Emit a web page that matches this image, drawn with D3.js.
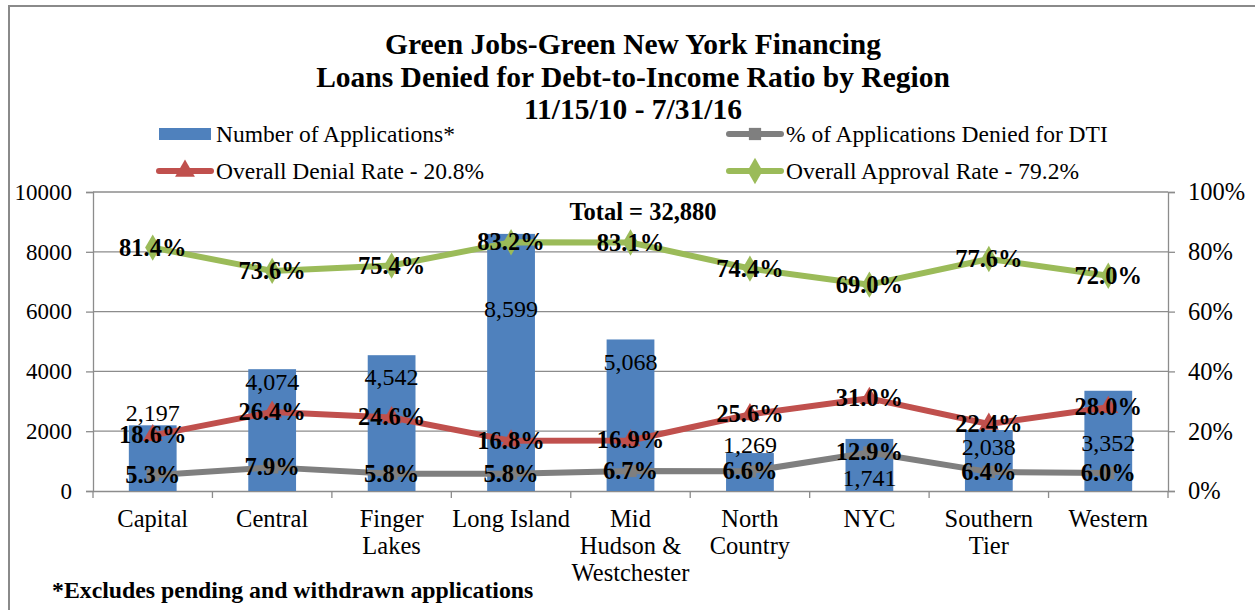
<!DOCTYPE html>
<html>
<head>
<meta charset="utf-8">
<script src="https://cdn.jsdelivr.net/npm/d3@7"></script>
<style>
  body { margin: 0; background: #fff; }
  svg { display: block; font-family: "Liberation Serif", "Times New Roman", serif; }
  .grid line { stroke: #8c8c8c; stroke-width: 1.3; }
  .axis path, .axis line { stroke: #8c8c8c; stroke-width: 1.3; }
  .axis text { font-size: 23px; fill: #000; font-family: "Liberation Serif", serif; }
</style>
</head>
<body>
<svg id="chart" width="1255" height="610"></svg>
<script>
// regions on the category axis
const regions = ["Capital", "Central", "Finger Lakes", "Long Island", "Mid Hudson & Westchester",
                 "North Country", "NYC", "Southern Tier", "Western"];
// how the region names wrap
const regionLines = [["Capital"], ["Central"], ["Finger", "Lakes"], ["Long Island"],
                     ["Mid", "Hudson &", "Westchester"], ["North", "Country"], ["NYC"],
                     ["Southern", "Tier"], ["Western"]];

const applications = [2197, 4074, 4542, 8599, 5068, 1269, 1741, 2038, 3352];
const deniedDTI    = [5.3, 7.9, 5.8, 5.8, 6.7, 6.6, 12.9, 6.4, 6.0];
const denialRate   = [18.6, 26.4, 24.6, 16.8, 16.9, 25.6, 31.0, 22.4, 28.0];
const approvalRate = [81.4, 73.6, 75.4, 83.2, 83.1, 74.4, 69.0, 77.6, 72.0];

const leftTicks  = [0, 2000, 4000, 6000, 8000, 10000];
const rightTicks = [0, 0.2, 0.4, 0.6, 0.8, 1.0];

// where each count label sits relative to its bar top (as placed in the original)
const barLabelDy = [-12, 13, 22, 75, 23, -8, 39, 17, 52];

const svg = d3.select('#chart');

// outer frame
svg.append('path')
    .attr('d', 'M9,640 L9,6 L1270,6')
    .attr('fill', 'none')
    .attr('stroke', '#8a8a8a')
    .attr('stroke-width', 2);

const plot = { left: 93, right: 1168, top: 192, bottom: 491 };

const x = d3.scaleBand()
            .domain(regions)
            .range([plot.left, plot.right])
            .padding(0);
const yL = d3.scaleLinear().domain([0, 10000]).range([plot.bottom, plot.top]);
const yR = d3.scaleLinear().domain([0, 1]).range([plot.bottom, plot.top]);
const cx = d => x(d) + x.bandwidth() / 2;

// title
const title = ["Green Jobs-Green New York Financing",
               "Loans Denied for Debt-to-Income Ratio by Region",
               "11/15/10 - 7/31/16"];
svg.append('g').selectAll('text')
    .data(title)
    .join('text')
    .attr('x', 633)
    .attr('y', (d, i) => 54 + i * 32.5)
    .attr('text-anchor', 'middle')
    .attr('font-weight', 'bold')
    .attr('font-size', 29.5)
    .text(d => d);

// gridlines
svg.append('g').attr('class', 'grid')
    .selectAll('line')
    .data(leftTicks.slice(1))
    .join('line')
    .attr('x1', plot.left).attr('x2', plot.right)
    .attr('y1', d => yL(d)).attr('y2', d => yL(d));

// axes
svg.append('g').attr('class', 'axis')
    .attr('transform', `translate(${plot.left},0)`)
    .call(d3.axisLeft(yL).tickValues(leftTicks).tickFormat(d3.format('d')).tickSize(7).tickPadding(14));
svg.append('g').attr('class', 'axis')
    .attr('transform', `translate(${plot.right},0)`)
    .call(d3.axisRight(yR).tickValues(rightTicks).tickFormat(d3.format('.0%')).tickSize(7).tickPadding(13))
    .selectAll('text').style('font-size', '24.5px');

const xAxis = svg.append('g').attr('class', 'axis')
    .attr('transform', `translate(0,${plot.bottom})`)
    .call(d3.axisBottom(x).tickSize(0).tickFormat(''));
// category boundary ticks
xAxis.selectAll('.bound')
    .data(d3.range(regions.length + 1))
    .join('line')
    .attr('class', 'bound')
    .attr('x1', i => plot.left + i * x.step())
    .attr('x2', i => plot.left + i * x.step())
    .attr('y1', 0).attr('y2', 7);

// category labels
const catG = svg.append('g');
regions.forEach((r, i) => {
    catG.append('text')
        .attr('x', cx(r))
        .attr('y', 527)
        .attr('text-anchor', 'middle')
        .attr('font-size', 24.5)
        .selectAll('tspan')
        .data(regionLines[i])
        .join('tspan')
        .attr('x', cx(r))
        .attr('dy', (d, j) => j === 0 ? 0 : 27)
        .text(d => d);
});

// bars
const barW = x.bandwidth() * 0.4;
svg.append('g').selectAll('rect')
    .data(applications)
    .join('rect')
    .attr('x', (d, i) => cx(regions[i]) - barW / 2)
    .attr('width', barW)
    .attr('y', d => yL(d))
    .attr('height', d => plot.bottom - yL(d))
    .attr('fill', '#4f81bd');

// lines + markers
const series = [
    { name: "% of Applications Denied for DTI", vals: deniedDTI, color: '#7f7f7f', marker: 'square' },
    { name: "Overall Denial Rate - 20.8%", vals: denialRate, color: '#c0504d', marker: 'triangle' },
    { name: "Overall Approval Rate - 79.2%", vals: approvalRate, color: '#9bbb59', marker: 'diamond' }
];

const line = d3.line()
    .x((d, i) => cx(regions[i]))
    .y(d => yR(d / 100));

const symbolOf = {
    square: d3.symbol().type(d3.symbolSquare).size(150),
    triangle: d3.symbol().type(d3.symbolTriangle).size(170),
    diamond: d3.symbol().type(d3.symbolDiamond).size(200)
};

series.forEach(s => {
    svg.append('path')
        .datum(s.vals)
        .attr('d', line)
        .attr('fill', 'none')
        .attr('stroke', s.color)
        .attr('stroke-width', 6)
        .attr('stroke-linejoin', 'round');
    svg.append('g').selectAll('path')
        .data(s.vals)
        .join('path')
        .attr('d', symbolOf[s.marker]())
        .attr('transform', (d, i) => `translate(${cx(regions[i])},${yR(d / 100)})`)
        .attr('fill', s.color);
});

// count labels
svg.append('g').selectAll('text')
    .data(applications)
    .join('text')
    .attr('x', (d, i) => cx(regions[i]))
    .attr('y', (d, i) => yL(d) + barLabelDy[i] + 8)
    .attr('text-anchor', 'middle')
    .attr('font-size', 24)
    .text(d => d3.format(',')(d));

// percentage labels
series.forEach(s => {
    svg.append('g').selectAll('text')
        .data(s.vals)
        .join('text')
        .attr('x', (d, i) => cx(regions[i]))
        .attr('y', d => yR(d / 100) + 8)
        .attr('text-anchor', 'middle')
        .attr('font-size', 24.5)
        .attr('font-weight', 'bold')
        .text(d => d.toFixed(1) + '%');
});

// total
svg.append('text')
    .attr('x', 643).attr('y', 220)
    .attr('text-anchor', 'middle')
    .attr('font-size', 24.5)
    .attr('font-weight', 'bold')
    .text('Total = 32,880');

// legend
const legend = svg.append('g');
const legendItems = [
    { label: "Number of Applications*", color: '#4f81bd', marker: 'bar', lx: 159, ly: 134 },
    { label: series[0].name, color: series[0].color, marker: 'square', lx: 729, ly: 134 },
    { label: series[1].name, color: series[1].color, marker: 'triangle', lx: 159, ly: 171 },
    { label: series[2].name, color: series[2].color, marker: 'diamond', lx: 729, ly: 171 }
];
legendItems.forEach(it => {
    if (it.marker === 'bar') {
        legend.append('rect')
            .attr('x', it.lx).attr('y', it.ly - 6)
            .attr('width', 52).attr('height', 12)
            .attr('fill', it.color);
    } else {
        legend.append('line')
            .attr('x1', it.lx).attr('x2', it.lx + 52)
            .attr('y1', it.ly).attr('y2', it.ly)
            .attr('stroke', it.color).attr('stroke-width', 6)
            .attr('stroke-linecap', 'round');
        legend.append('path')
            .attr('d', symbolOf[it.marker]())
            .attr('transform', `translate(${it.lx + 26},${it.ly})`)
            .attr('fill', it.color);
    }
    legend.append('text')
        .attr('x', it.lx + 57).attr('y', it.ly + 8)
        .attr('font-size', 23.5)
        .text(it.label);
});

// footnote
svg.append('text')
    .attr('x', 52).attr('y', 598)
    .attr('font-size', 23.8)
    .attr('font-weight', 'bold')
    .text('*Excludes pending and withdrawn applications');
</script>
</body>
</html>
